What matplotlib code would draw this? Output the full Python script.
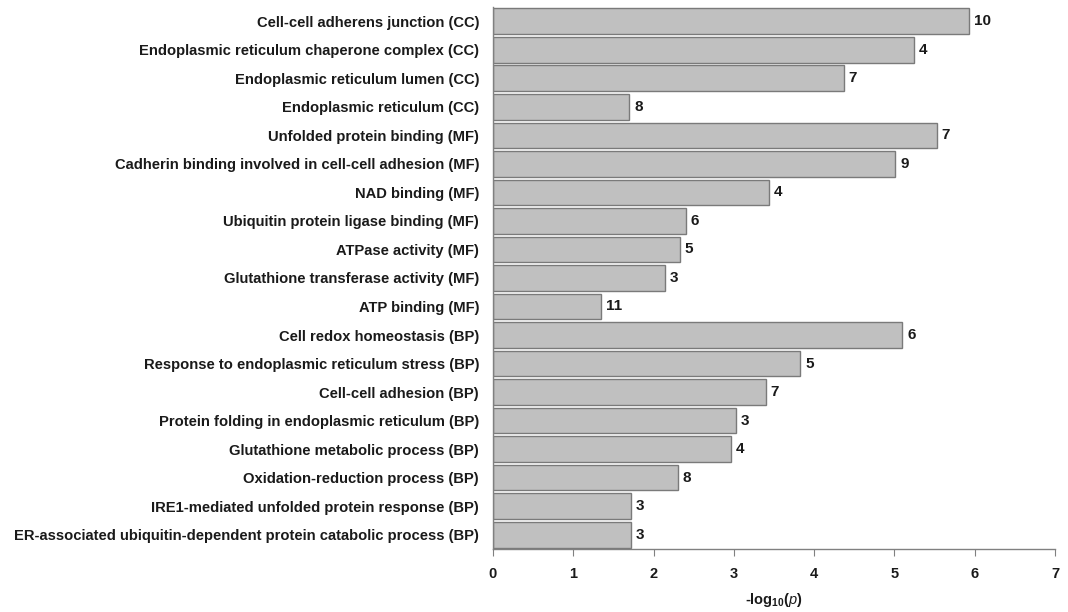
import matplotlib
matplotlib.use("Agg")
import matplotlib.pyplot as plt

categories = [
    "Cell-cell adherens junction (CC)",
    "Endoplasmic reticulum chaperone complex (CC)",
    "Endoplasmic reticulum lumen (CC)",
    "Endoplasmic reticulum (CC)",
    "Unfolded protein binding (MF)",
    "Cadherin binding involved in cell-cell adhesion (MF)",
    "NAD binding (MF)",
    "Ubiquitin protein ligase binding (MF)",
    "ATPase activity (MF)",
    "Glutathione transferase activity (MF)",
    "ATP binding (MF)",
    "Cell redox homeostasis (BP)",
    "Response to endoplasmic reticulum stress (BP)",
    "Cell-cell adhesion (BP)",
    "Protein folding in endoplasmic reticulum (BP)",
    "Glutathione metabolic process (BP)",
    "Oxidation-reduction process (BP)",
    "IRE1-mediated unfolded protein response (BP)",
    "ER-associated ubiquitin-dependent protein catabolic process (BP)",
]
neg_log_p = [5.93, 5.24, 4.37, 1.70, 5.53, 5.01, 3.44, 2.40, 2.33, 2.14, 1.35,
             5.10, 3.83, 3.40, 3.03, 2.96, 2.30, 1.72, 1.72]
counts = [10, 4, 7, 8, 7, 9, 4, 6, 5, 3, 11, 6, 5, 7, 3, 4, 8, 3, 3]
xticks = [0, 1, 2, 3, 4, 5, 6, 7]

plt.rcParams['font.family'] = ['Liberation Sans', 'DejaVu Sans']
plt.rcParams['mathtext.fontset'] = 'custom'
plt.rcParams['mathtext.rm'] = 'Liberation Sans:bold'
plt.rcParams['mathtext.it'] = 'Liberation Sans:italic'

fig = plt.figure(figsize=(10.68, 6.12), dpi=100)
ax = fig.add_axes([0.4616, 0.103, 0.9878 - 0.4616, 0.9886 - 0.103])

ypos = list(range(len(categories)))
ax.barh(ypos, neg_log_p, height=0.9, color='#c0c0c0', edgecolor='#7a7a7a', linewidth=1.0)
for y, v, c in zip(ypos, neg_log_p, counts):
    ax.text(v + 0.06, y, str(c), va='center', ha='left', fontsize=11,
            fontweight='bold', color='#1a1a1a')

ax.set_ylim(len(categories) - 0.5, -0.5)
ax.set_xlim(0, 7)
ax.set_yticks(ypos)
ax.set_yticklabels(categories, fontsize=10.6, fontweight='bold', color='#1a1a1a')
ax.tick_params(axis='y', length=0, pad=10)
ax.set_xticks(xticks)
ax.set_xticklabels([str(t) for t in xticks], fontsize=10.5, fontweight='bold', color='#1a1a1a')
ax.tick_params(axis='x', length=5, color='#808080', pad=8)
for s in ['top', 'right']:
    ax.spines[s].set_visible(False)
for s in ['left', 'bottom']:
    ax.spines[s].set_color('#808080')
    ax.spines[s].set_linewidth(1.0)

ax.set_xlabel(r'-log$_{10}$($\mathit{p}$)', fontsize=10.5, fontweight='bold',
              color='#1a1a1a', labelpad=7)

fig.savefig('out.png', dpi=100)
